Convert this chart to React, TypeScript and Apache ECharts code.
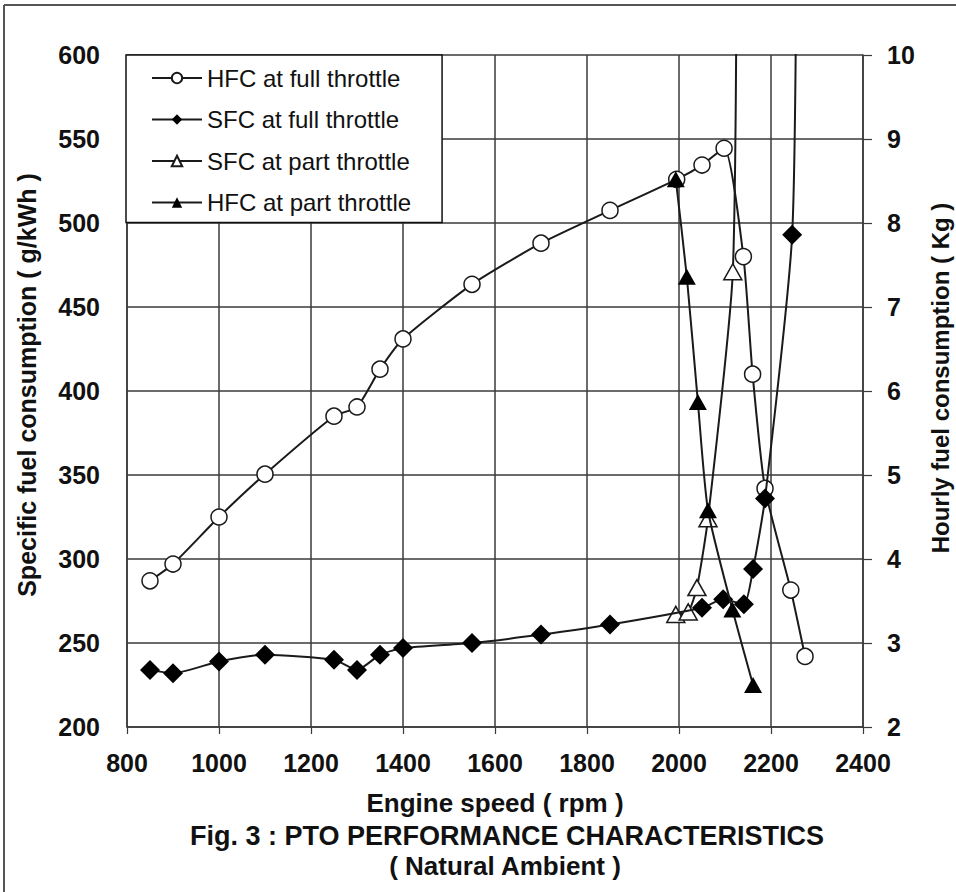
import React, { useEffect, useRef } from "react";
import * as echarts from "echarts";

// Engine speed axis ticks (rpm)
const rpmTicks = [800, 1000, 1200, 1400, 1600, 1800, 2000, 2200, 2400];
const sfcTicks = [200, 250, 300, 350, 400, 450, 500, 550, 600];
const hfcTicks = [2, 3, 4, 5, 6, 7, 8, 9, 10];

// HFC at full throttle (kg/h, right axis)
const hfcFullRpm = [850, 900, 1000, 1100, 1250, 1300, 1350, 1400, 1550, 1700, 1850, 1995, 2050, 2098, 2140, 2160, 2187, 2243, 2274];
const hfcFullKg = [3.74, 3.94, 4.5, 5.01, 5.7, 5.81, 6.26, 6.62, 7.27, 7.76, 8.15, 8.52, 8.69, 8.89, 7.6, 6.2, 4.84, 3.63, 2.84];

// SFC at full throttle (g/kWh, left axis)
const sfcFullRpm = [850, 900, 1000, 1100, 1250, 1300, 1350, 1400, 1550, 1700, 1850, 2050, 2096, 2141, 2161, 2187, 2246, 2256];
const sfcFullVal = [234, 232, 239, 243, 240, 234, 243, 247, 250, 255, 261, 271, 276, 273, 294, 336, 493, 720];

// SFC at part throttle (g/kWh, left axis)
const sfcPartRpm = [1993, 2020, 2039, 2063, 2117, 2126];
const sfcPartVal = [267, 268.5, 283, 324, 471, 760];

// HFC at part throttle (kg/h, right axis)
const hfcPartRpm = [1993, 2017, 2041, 2063, 2116, 2161];
const hfcPartKg = [8.52, 7.36, 5.87, 4.58, 3.4, 2.5];

const seriesNames = [
  "HFC at full throttle",
  "SFC at full throttle",
  "SFC at part throttle",
  "HFC at part throttle",
];

const FONT = "Liberation Sans, Arial, sans-serif";
const INK = "#111";
const GRID = "#3a3a3a";

function pairs(xs: number[], ys: number[]) {
  return xs.map((x, i) => [x, ys[i]]);
}

export default function App() {
  const ref = useRef<HTMLDivElement>(null);

  useEffect(() => {
    const chart = echarts.init(ref.current!, null, { renderer: "svg" });
    const lineStyle = { color: "#1a1a1a", width: 2 };
    const tickFont = { fontFamily: FONT, fontSize: 25, fontWeight: "bold", color: INK };
    chart.setOption({
      animation: false,
      backgroundColor: "#fff",
      textStyle: { fontFamily: FONT },
      grid: { left: 127, right: 93, top: 55, bottom: 165, containLabel: false },
      legend: {
        data: seriesNames,
        orient: "vertical",
        left: 126,
        top: 55,
        padding: [11, 31, 8, 25],
        itemWidth: 50,
        itemHeight: 13,
        itemGap: 17.5,
        backgroundColor: "#fff",
        borderColor: "#111",
        borderWidth: 1.5,
        textStyle: { fontFamily: FONT, fontSize: 24, color: INK },
      },
      xAxis: {
        type: "value",
        min: rpmTicks[0],
        max: rpmTicks[rpmTicks.length - 1],
        interval: rpmTicks[1] - rpmTicks[0],
        name: "Engine speed ( rpm )",
        nameLocation: "middle",
        nameGap: 63,
        nameTextStyle: { fontFamily: FONT, fontSize: 26, fontWeight: "bold", color: INK },
        axisLine: { show: true, lineStyle: { color: GRID, width: 1.5 } },
        axisTick: { show: true, inside: false, length: 7, lineStyle: { color: GRID, width: 1.2 } },
        axisLabel: { ...tickFont, margin: 23, formatter: (v: number) => String(v) },
        splitLine: { show: true, lineStyle: { color: GRID, width: 1.5 } },
      },
      yAxis: [
        {
          type: "value",
          min: sfcTicks[0],
          max: sfcTicks[sfcTicks.length - 1],
          interval: sfcTicks[1] - sfcTicks[0],
          position: "left",
          axisLine: { show: true, lineStyle: { color: GRID, width: 1.5 } },
          axisTick: { show: false },
          axisLabel: { ...tickFont, margin: 27, formatter: (v: number) => String(v) },
          splitLine: { show: true, lineStyle: { color: GRID, width: 1.5 } },
        },
        {
          type: "value",
          min: hfcTicks[0],
          max: hfcTicks[hfcTicks.length - 1],
          interval: hfcTicks[1] - hfcTicks[0],
          position: "right",
          axisLine: { show: true, lineStyle: { color: GRID, width: 1.5 } },
          axisTick: { show: true, inside: false, length: 9, lineStyle: { color: GRID, width: 1.2 } },
          axisLabel: { ...tickFont, margin: 24 },
          splitLine: { show: false },
        },
      ],
      series: [
        {
          name: seriesNames[0],
          type: "line",
          yAxisIndex: 1,
          data: pairs(hfcFullRpm, hfcFullKg),
          smooth: 0.2,
          symbol: "circle",
          symbolSize: 16,
          showAllSymbol: true,
          lineStyle,
          itemStyle: { color: "#fff", borderColor: "#1a1a1a", borderWidth: 1.5 },
          z: 3,
        },
        {
          name: seriesNames[1],
          type: "line",
          yAxisIndex: 0,
          data: pairs(sfcFullRpm, sfcFullVal),
          smooth: 0.2,
          symbol: "diamond",
          symbolSize: [20, 20],
          showAllSymbol: true,
          lineStyle,
          itemStyle: { color: "#000", borderColor: "#000", borderWidth: 0 },
          z: 4,
        },
        {
          name: seriesNames[2],
          type: "line",
          yAxisIndex: 0,
          data: pairs(sfcPartRpm, sfcPartVal),
          smooth: 0.2,
          symbol: "triangle",
          symbolSize: [18, 16],
          showAllSymbol: true,
          lineStyle,
          itemStyle: { color: "#fff", borderColor: "#1a1a1a", borderWidth: 1.5 },
          z: 3,
        },
        {
          name: seriesNames[3],
          type: "line",
          yAxisIndex: 1,
          data: pairs(hfcPartRpm, hfcPartKg),
          smooth: 0.2,
          symbol: "triangle",
          symbolSize: [18, 16],
          showAllSymbol: true,
          lineStyle,
          itemStyle: { color: "#000", borderColor: "#000", borderWidth: 0 },
          z: 5,
        },
      ],
      graphic: [
        { type: "line", shape: { x1: 4, y1: 5, x2: 956, y2: 5 }, style: { stroke: "#555", lineWidth: 2 } },
        { type: "line", shape: { x1: 4, y1: 5, x2: 4, y2: 892 }, style: { stroke: "#555", lineWidth: 2 } },
        {
          type: "text",
          x: 27,
          y: 385,
          rotation: Math.PI / 2,
          style: {
            text: "Specific fuel consumption ( g/kWh )",
            fontFamily: FONT,
            fontSize: 25,
            fontWeight: "bold",
            fill: INK,
            textAlign: "center",
            textVerticalAlign: "middle",
          },
        },
        {
          type: "text",
          x: 940,
          y: 378,
          rotation: Math.PI / 2,
          style: {
            text: "Hourly fuel consumption ( Kg )",
            fontFamily: FONT,
            fontSize: 24,
            fontWeight: "bold",
            fill: INK,
            textAlign: "center",
            textVerticalAlign: "middle",
          },
        },
        {
          type: "text",
          x: 507,
          y: 836,
          style: {
            text: "Fig. 3 : PTO PERFORMANCE CHARACTERISTICS",
            fontFamily: FONT,
            fontSize: 27,
            fontWeight: "bold",
            fill: INK,
            textAlign: "center",
            textVerticalAlign: "middle",
          },
        },
        {
          type: "text",
          x: 505,
          y: 866,
          style: {
            text: "( Natural Ambient )",
            fontFamily: FONT,
            fontSize: 26,
            fontWeight: "bold",
            fill: INK,
            textAlign: "center",
            textVerticalAlign: "middle",
          },
        },
      ],
    });
    return () => chart.dispose();
  }, []);

  return (
    <div
      ref={ref}
      style={{ position: "fixed", left: 0, top: 0, width: 956, height: 892, background: "#fff" }}
    />
  );
}
